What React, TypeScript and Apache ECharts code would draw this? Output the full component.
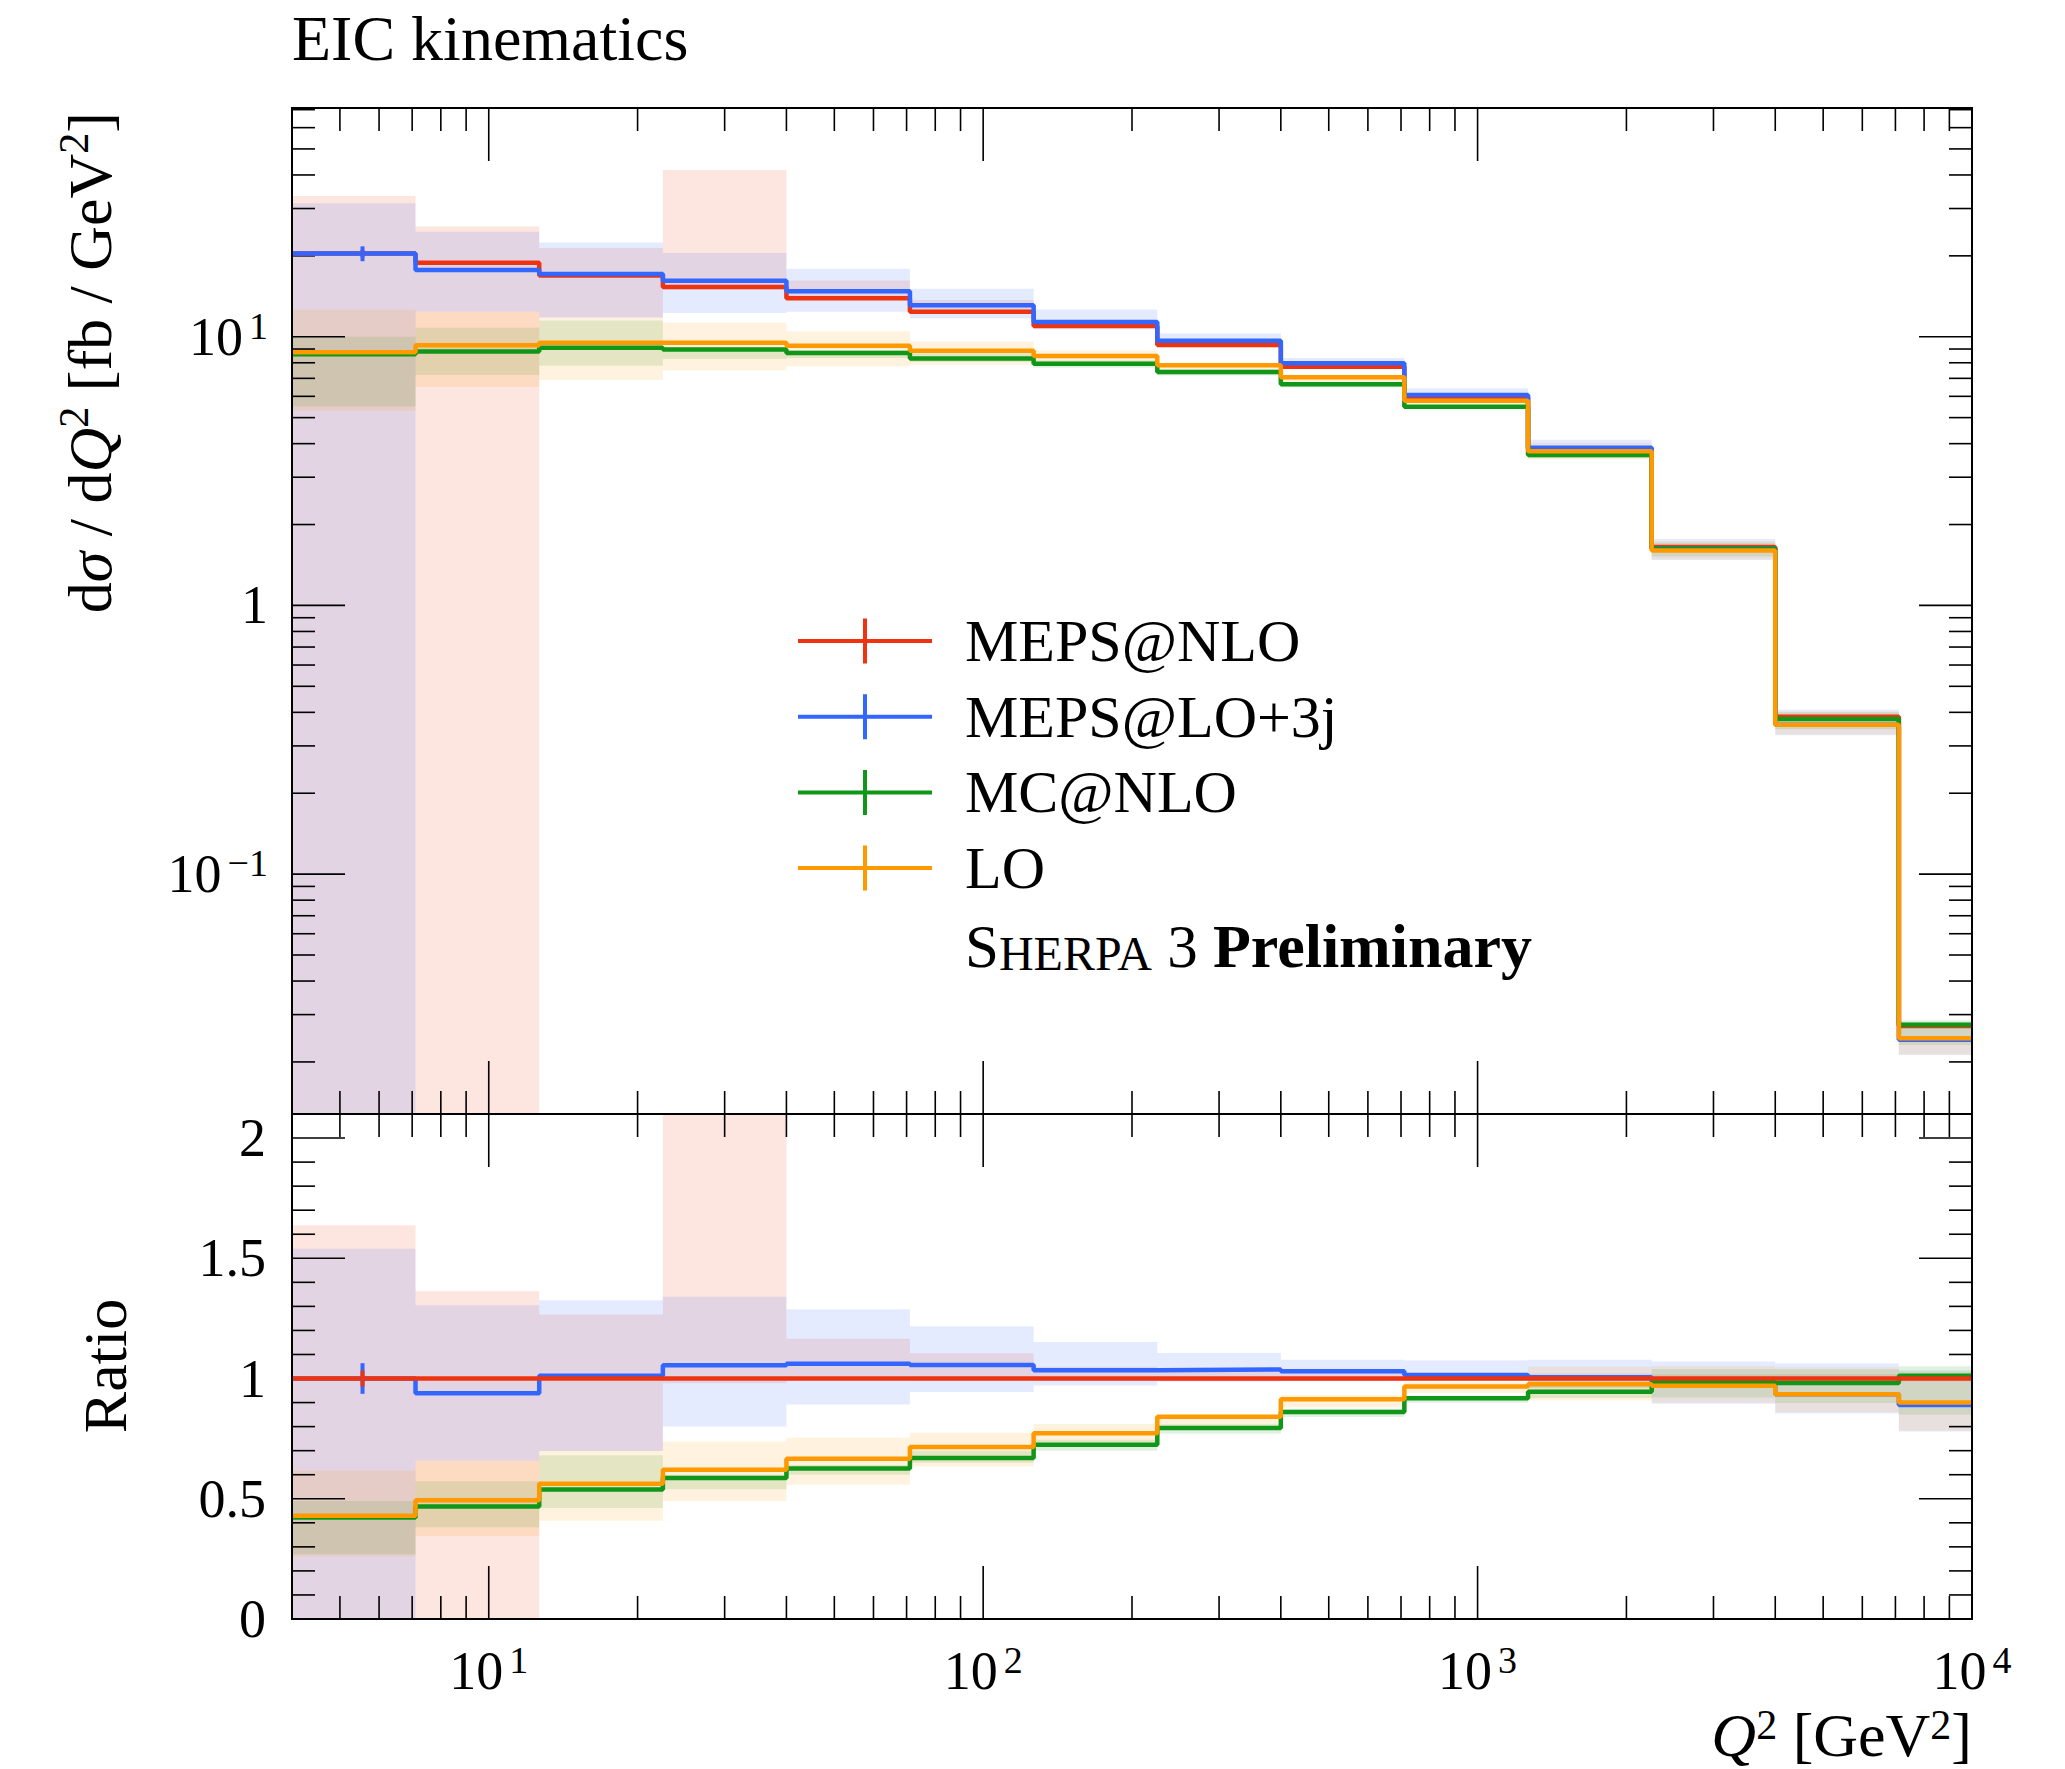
import React, { useEffect, useRef } from "react";
import * as echarts from "echarts";

// ---------- data ----------
const binEdges = [4, 7.11, 12.65, 22.5, 40, 71.1, 126.5, 225, 400, 711, 1265, 2250, 4000, 7113, 10000];

const sampleNames = ["MEPS@NLO", "MEPS@LO+3j", "MC@NLO", "LO"];
const sampleColors = ["#EE3311", "#3366FF", "#109618", "#FF9900"];

// central values, dσ/dQ² [fb/GeV²]
const mepsNloValues = [20.4, 18.85, 16.9, 15.3, 13.9, 12.4, 10.96, 9.31, 7.73, 5.98, 3.84, 1.65, 0.385, 0.0272];
const mepsLoValues = [20.4, 17.7, 17.1, 16.15, 14.75, 13.1, 11.34, 9.66, 7.96, 6.07, 3.86, 1.63, 0.36, 0.0242];
const mcNloValues = [8.6, 8.82, 9.1, 8.97, 8.7, 8.3, 7.94, 7.39, 6.65, 5.49, 3.63, 1.625, 0.378, 0.0275];
const loValues = [8.75, 9.3, 9.5, 9.5, 9.26, 8.87, 8.47, 7.83, 7.06, 5.78, 3.75, 1.6, 0.36, 0.0245];

// uncertainty bands (lower / upper)
const mepsNloLow = [0.001, 0.001, 11.8, 15.0, 13.8, 12.3, 10.85, 9.2, 7.65, 5.92, 3.8, 1.63, 0.381, 0.0269];
const mepsNloHigh = [33.4, 25.7, 21.4, 41.7, 16.2, 13.7, 11.5, 9.7, 7.96, 6.1, 3.92, 1.68, 0.392, 0.0277];
const mepsLoLow = [0.001, 12.4, 11.8, 12.25, 12.4, 11.7, 10.64, 9.2, 7.65, 5.92, 3.69, 1.477, 0.329, 0.0212];
const mepsLoHigh = [31.4, 24.6, 22.4, 20.5, 17.9, 15.1, 12.63, 10.3, 8.33, 6.43, 4.14, 1.767, 0.409, 0.0281];
const mcNloLow = [5.5, 7.2, 7.8, 8.26, 8.34, 8.06, 7.67, 7.17, 6.49, 5.38, 3.53, 1.52, 0.346, 0.0231];
const mcNloHigh = [10.0, 10.8, 11.5, 9.18, 8.9, 8.68, 8.17, 7.54, 6.76, 5.56, 3.84, 1.716, 0.4, 0.0286];
const loLow = [5.3, 6.5, 6.9, 7.5, 7.76, 7.87, 8.06, 7.49, 6.8, 5.62, 3.49, 1.483, 0.331, 0.0213];
const loHigh = [12.6, 12.4, 11.8, 11.3, 10.47, 9.6, 8.89, 7.91, 7.19, 5.89, 4.03, 1.736, 0.403, 0.028];

// statistical errors (visible only in the first bin)
const mepsNloErr = [0.67, 0, 0, 0, 0, 0, 0, 0, 0, 0, 0, 0, 0, 0];
const mepsLoErr = [1.3, 0, 0, 0, 0, 0, 0, 0, 0, 0, 0, 0, 0, 0];
const mcNloErr = [0, 0, 0, 0, 0, 0, 0, 0, 0, 0, 0, 0, 0, 0];
const loErr = [0, 0, 0, 0, 0, 0, 0, 0, 0, 0, 0, 0, 0, 0];

// ticks
const xMajorTicks = [10, 100, 1000];
const xMinorTicks = [5, 6, 7, 8, 9, 20, 30, 40, 50, 60, 70, 80, 90, 200, 300, 400, 500, 600, 700, 800, 900, 2000, 3000, 4000, 5000, 6000, 7000, 8000, 9000];
const yMainMajorTicks = [0.1, 1, 10];
const yMainMinorTicks = [0.02, 0.03, 0.04, 0.05, 0.06, 0.07, 0.08, 0.09, 0.2, 0.3, 0.4, 0.5, 0.6, 0.7, 0.8, 0.9, 2, 3, 4, 5, 6, 7, 8, 9, 20, 30, 40, 50, 60, 70];
const yRatioMajorTicks = [0, 0.5, 1, 1.5, 2];
const yRatioMinorTicks = [0.1, 0.2, 0.3, 0.4, 0.6, 0.7, 0.8, 0.9, 1.1, 1.2, 1.3, 1.4, 1.6, 1.7, 1.8, 1.9];

// ---------- helpers ----------
const SERIF = "'Liberation Serif', 'Times New Roman', serif";
const MAJ = 53;
const MIN = 23;

const allValues = [mepsNloValues, mepsLoValues, mcNloValues, loValues];
const allLow = [mepsNloLow, mepsLoLow, mcNloLow, loLow];
const allHigh = [mepsNloHigh, mepsLoHigh, mcNloHigh, loHigh];
const allErr = [mepsNloErr, mepsLoErr, mcNloErr, loErr];

function rgba(hex: string, a: number) {
  const n = parseInt(hex.slice(1), 16);
  return `rgba(${(n >> 16) & 255},${(n >> 8) & 255},${n & 255},${a})`;
}

function stepData(values: number[]) {
  const d: number[][] = [];
  values.forEach((v, i) => {
    d.push([binEdges[i], v]);
    d.push([binEdges[i + 1], v]);
  });
  return d;
}

function bandData(low: number[], high: number[]) {
  return low.map((l, i) => [binEdges[i], binEdges[i + 1], l, high[i]]);
}

const toRatio = (arr: number[]) => arr.map((v, i) => v / mepsNloValues[i]);

function bandRender(color: string) {
  return (params: any, api: any) => {
    const p1 = api.coord([api.value(0), api.value(3)]);
    const p2 = api.coord([api.value(1), api.value(2)]);
    const cs = params.coordSys;
    const shape = echarts.graphic.clipRectByRect(
      { x: p1[0], y: p1[1], width: p2[0] - p1[0], height: p2[1] - p1[1] },
      { x: cs.x, y: cs.y, width: cs.width, height: cs.height }
    );
    if (!shape) return;
    return { type: "rect", shape, style: { fill: rgba(color, 0.13) } };
  };
}

function errRender(color: string) {
  return (params: any, api: any) => {
    const err = api.value(2);
    if (!(err > 0)) return;
    const a = api.coord([api.value(0), api.value(1) + err]);
    const b = api.coord([api.value(0), api.value(1) - err]);
    return {
      type: "line",
      shape: { x1: a[0], y1: a[1], x2: b[0], y2: b[1] },
      style: { stroke: color, lineWidth: 4 },
    };
  };
}

function tickRender(yMaj: number[], yMin: number[], yRef: number) {
  return (params: any, api: any) => {
    const cs = params.coordSys;
    const x0 = cs.x, x1 = cs.x + cs.width, y0 = cs.y, y1 = cs.y + cs.height;
    const children: any[] = [];
    const seg = (a: number, b: number, c: number, d: number) =>
      children.push({ type: "line", shape: { x1: a, y1: b, x2: c, y2: d }, style: { stroke: "#000", lineWidth: 1.6 } });
    xMajorTicks.forEach((v) => {
      const x = api.coord([v, yRef])[0];
      seg(x, y0, x, y0 + MAJ);
      seg(x, y1, x, y1 - MAJ);
    });
    xMinorTicks.forEach((v) => {
      const x = api.coord([v, yRef])[0];
      seg(x, y0, x, y0 + MIN);
      seg(x, y1, x, y1 - MIN);
    });
    yMaj.forEach((v) => {
      const y = api.coord([10, v])[1];
      seg(x0, y, x0 + MAJ, y);
      seg(x1, y, x1 - MAJ, y);
    });
    yMin.forEach((v) => {
      const y = api.coord([10, v])[1];
      seg(x0, y, x0 + MIN, y);
      seg(x1, y, x1 - MIN, y);
    });
    return { type: "group", children };
  };
}

const labelRich = {
  n: { fontSize: 54, fontFamily: SERIF, color: "#000", lineHeight: 60 },
  s: { fontSize: 38, fontFamily: SERIF, color: "#000", lineHeight: 36, verticalAlign: "top", padding: [0, 0, 0, 6] },
};

function powLabel(v: number) {
  const e = Math.log10(v);
  const r = Math.round(e);
  if (Math.abs(e - r) > 1e-6) return "";
  if (r === 0) return "{n|1}";
  return `{n|10}{s|${r < 0 ? "\u2212" : ""}${Math.abs(r)}}`;
}

export default function App() {
  const ref = useRef<HTMLDivElement>(null);

  useEffect(() => {
    if (!ref.current) return;
    const chart = echarts.init(ref.current, undefined, { renderer: "svg" });

    const series: any[] = [];

    // bands, main panel
    sampleNames.forEach((name, i) => {
      series.push({
        type: "custom",
        xAxisIndex: 0,
        yAxisIndex: 0,
        z: 1,
        renderItem: bandRender(sampleColors[i]),
        encode: { x: [0, 1], y: [2, 3] },
        data: bandData(allLow[i], allHigh[i]),
        silent: true,
      });
    });
    // bands, ratio panel
    sampleNames.forEach((name, i) => {
      series.push({
        type: "custom",
        xAxisIndex: 1,
        yAxisIndex: 1,
        z: 1,
        renderItem: bandRender(sampleColors[i]),
        encode: { x: [0, 1], y: [2, 3] },
        data: bandData(toRatio(allLow[i]), toRatio(allHigh[i])),
        silent: true,
      });
    });
    // ticks
    series.push({
      type: "custom",
      xAxisIndex: 0,
      yAxisIndex: 0,
      z: 3,
      renderItem: tickRender(yMainMajorTicks, yMainMinorTicks, 1),
      data: [[10, 1]],
      silent: true,
    });
    series.push({
      type: "custom",
      xAxisIndex: 1,
      yAxisIndex: 1,
      z: 3,
      renderItem: tickRender(yRatioMajorTicks, yRatioMinorTicks, 1),
      data: [[10, 1]],
      silent: true,
    });
    // lines, main panel (red, blue, green, orange)
    sampleNames.forEach((name, i) => {
      series.push({
        type: "line",
        name,
        xAxisIndex: 0,
        yAxisIndex: 0,
        z: 5 + i,
        color: sampleColors[i],
        symbol: "none",
        lineStyle: { width: 4.5, color: sampleColors[i] },
        data: stepData(allValues[i]),
        silent: true,
      });
    });
    // lines, ratio panel (blue, green, orange, red on top)
    [1, 2, 3, 0].forEach((i, k) => {
      series.push({
        type: "line",
        name: sampleNames[i],
        xAxisIndex: 1,
        yAxisIndex: 1,
        z: 5 + k,
        color: sampleColors[i],
        symbol: "none",
        lineStyle: { width: 4.5, color: sampleColors[i] },
        data: stepData(toRatio(allValues[i])),
        silent: true,
      });
    });
    // error bars
    sampleNames.forEach((name, i) => {
      const centers = allValues[i].map((v, b) => [(binEdges[b] + binEdges[b + 1]) / 2, v, allErr[i][b]]);
      const centersR = allValues[i].map((v, b) => [
        (binEdges[b] + binEdges[b + 1]) / 2,
        v / mepsNloValues[b],
        allErr[i][b] / mepsNloValues[b],
      ]);
      series.push({
        type: "custom",
        xAxisIndex: 0,
        yAxisIndex: 0,
        z: i === 1 ? 12 : 10,
        renderItem: errRender(sampleColors[i]),
        encode: { x: 0, y: 1 },
        data: centers,
        silent: true,
      });
      series.push({
        type: "custom",
        xAxisIndex: 1,
        yAxisIndex: 1,
        z: i === 0 ? 12 : 10,
        renderItem: errRender(sampleColors[i]),
        encode: { x: 0, y: 1 },
        data: centersR,
        silent: true,
      });
    });

    const option: any = {
      animation: false,
      backgroundColor: "#ffffff",
      grid: [
        { left: 292, top: 108, width: 1680, height: 1006, show: true, borderColor: "#000", borderWidth: 2, backgroundColor: "transparent", z: 20 },
        { left: 292, top: 1114, width: 1680, height: 505, show: true, borderColor: "#000", borderWidth: 2, backgroundColor: "transparent", z: 20 },
      ],
      xAxis: [
        {
          type: "log",
          gridIndex: 0,
          min: 4,
          max: 10000,
          axisLine: { show: false },
          axisTick: { show: false },
          axisLabel: { show: false },
          splitLine: { show: false },
        },
        {
          type: "log",
          gridIndex: 1,
          min: 4,
          max: 10000,
          axisLine: { show: false },
          axisTick: { show: false },
          splitLine: { show: false },
          axisLabel: {
            margin: 22,
            showMinLabel: false,
            showMaxLabel: true,
            formatter: (v: number) => powLabel(v),
            rich: labelRich,
          },
        },
      ],
      yAxis: [
        {
          type: "log",
          gridIndex: 0,
          min: 0.0128,
          max: 71,
          axisLine: { show: false },
          axisTick: { show: false },
          splitLine: { show: false },
          axisLabel: {
            margin: 24,
            showMinLabel: false,
            showMaxLabel: false,
            formatter: (v: number) => powLabel(v),
            rich: labelRich,
          },
        },
        {
          type: "value",
          gridIndex: 1,
          min: 0,
          max: 2.1,
          interval: 0.5,
          axisLine: { show: false },
          axisTick: { show: false },
          splitLine: { show: false },
          axisLabel: {
            margin: 26,
            showMinLabel: true,
            showMaxLabel: false,
            formatter: (v: number) => (Math.abs(v * 2 - Math.round(v * 2)) < 1e-6 ? `{n|${v}}` : ""),
            rich: labelRich,
          },
        },
      ],
      legend: {
        data: sampleNames,
        orient: "vertical",
        left: 798,
        top: 611,
        padding: 0,
        itemWidth: 134,
        itemHeight: 45,
        itemGap: 15.7,
        selectedMode: false,
        icon: "path://M0,20.5H65V0H69V20.5H134V24.5H69V45H65V24.5H0Z",
        textStyle: { fontFamily: SERIF, fontSize: 60, color: "#000", lineHeight: 60, padding: [0, 0, 0, 28] },
      },
      graphic: [
        {
          type: "text",
          x: 292,
          y: 38,
          style: { text: "EIC kinematics", fontFamily: SERIF, fontSize: 64, fill: "#000", align: "left", verticalAlign: "middle" },
        },
        {
          type: "text",
          x: 965,
          y: 946,
          style: {
            text: "{a|S}{b|HERPA}{r| 3 }{p|Preliminary}",
            align: "left",
            verticalAlign: "middle",
            rich: {
              a: { fontFamily: SERIF, fontSize: 61, fill: "#000" },
              b: { fontFamily: SERIF, fontSize: 48, fill: "#000", verticalAlign: "bottom", lineHeight: 58 },
              r: { fontFamily: SERIF, fontSize: 61, fill: "#000" },
              p: { fontFamily: SERIF, fontSize: 62, fontWeight: "bold", fill: "#000" },
            },
          },
        },
        {
          type: "text",
          x: 90,
          y: 112,
          rotation: Math.PI / 2,
          style: {
            text: "{r|d}{i|σ}{r| / d}{i|Q}{s|2}{r| [fb / GeV}{s|2}{r|]}",
            align: "right",
            verticalAlign: "middle",
            rich: {
              r: { fontFamily: SERIF, fontSize: 62, fill: "#000", lineHeight: 74 },
              i: { fontFamily: SERIF, fontSize: 62, fontStyle: "italic", fill: "#000", lineHeight: 74 },
              s: { fontFamily: SERIF, fontSize: 42, fill: "#000", lineHeight: 42, verticalAlign: "top" },
            },
          },
        },
        {
          type: "text",
          x: 105,
          y: 1366,
          rotation: Math.PI / 2,
          style: { text: "Ratio", fontFamily: SERIF, fontSize: 62, fill: "#000", align: "center", verticalAlign: "middle" },
        },
        {
          type: "text",
          x: 1972,
          y: 1735,
          style: {
            text: "{i|Q}{s|2}{r| [GeV}{s|2}{r|]}",
            align: "right",
            verticalAlign: "middle",
            rich: {
              r: { fontFamily: SERIF, fontSize: 62, fill: "#000", lineHeight: 62 },
              i: { fontFamily: SERIF, fontSize: 62, fontStyle: "italic", fill: "#000", lineHeight: 62 },
              s: { fontFamily: SERIF, fontSize: 42, fill: "#000", lineHeight: 40, verticalAlign: "top" },
            },
          },
        },
      ],
      series,
    };

    chart.setOption(option);
    return () => chart.dispose();
  }, []);

  return (
    <div
      ref={ref}
      style={{ position: "absolute", left: 0, top: 0, width: 2065, height: 1769, background: "#fff" }}
    />
  );
}
